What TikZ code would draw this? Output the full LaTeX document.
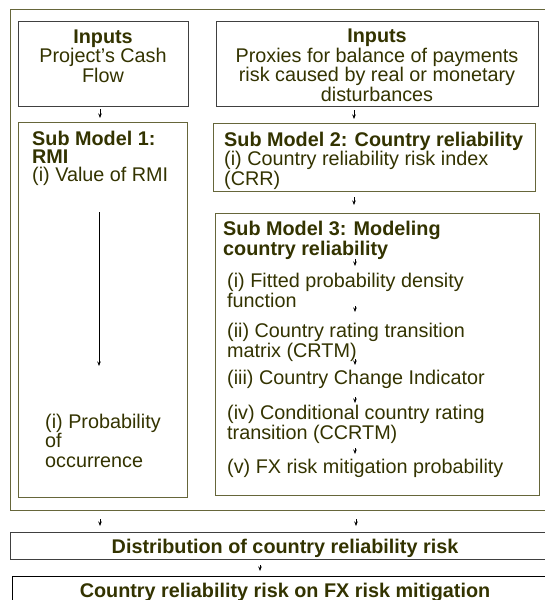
\documentclass[tikz,border=0pt]{standalone}
\usepackage{fontspec}
\setmainfont{Liberation Sans}
\usetikzlibrary{arrows.meta}

\begin{document}
\begin{tikzpicture}[x=1pt, y=-1pt,
    >={Stealth[length=4.5pt,width=3.5pt]},
    box/.style={draw, line width=1pt, inner sep=0pt, anchor=north west},
    txt/.style={inner sep=0pt, text=textColour, font=\fontsize{19.8}{19.5}\selectfont},
    flow/.style={->, line width=0.6pt, black}]
    % Define colours
    \definecolor{textColour}{HTML}{333300}
    \definecolor{oliveColour}{HTML}{66663A}
    \definecolor{inputColour}{HTML}{404040}

    % Fix the page
    \useasboundingbox (0,0) rectangle (544,600);

    % Draw outer frame
    \node[box, draw=oliveColour, minimum width=540pt, minimum height=501pt] (frame) at (10,9) {};

    % Draw input boxes
    \node[box, draw=inputColour, minimum width=170pt, minimum height=85pt] (in1) at (18,21) {};
    \node[box, draw=inputColour, minimum width=322pt, minimum height=85pt] (in2) at (216,21) {};

    % Draw sub model boxes
    \node[box, draw=oliveColour, minimum width=169pt, minimum height=375pt] (sm1) at (18,122) {};
    \node[box, draw=oliveColour, minimum width=322pt, minimum height=68pt] (sm2) at (213,123) {};
    \node[box, draw=oliveColour, minimum width=324pt, minimum height=282pt] (sm3) at (215,213) {};

    % Draw output boxes
    \node[box, draw=inputColour, minimum width=540pt, minimum height=27pt] (dist) at (10,532) {};
    \node[box, draw=black, minimum width=540pt, minimum height=40pt] (out) at (12,576) {};

    % Texts of the input boxes (base = last line)
    \node[txt, anchor=base, align=center] (in1txt) at (103,82) {\textbf{Inputs}\\Project's Cash\\Flow};
    \node[txt, anchor=base, align=center] (in2txt) at (377,101) {\textbf{Inputs}\\Proxies for balance of payments\\risk caused by real or monetary\\disturbances};

    % Texts of sub model 1
    \node[txt, anchor=base west, align=left, font=\fontsize{19.8}{18}\selectfont] (sm1a) at (32,181) {\textbf{Sub Model 1:}\\\textbf{RMI}\\(i) Value of RMI};
    \node[txt, anchor=base west, align=left] (sm1b) at (45,467) {(i) Probability\\of\\occurrence};

    % Texts of sub model 2
    \node[txt, anchor=base west, align=left] (sm2a) at (224,185) {\textbf{Sub Model 2: Country reliability}\\(i) Country reliability risk index\\(CRR)};

    % Texts of sub model 3
    \node[txt, anchor=base west, align=left, font=\fontsize{19.8}{20}\selectfont] (sm3a) at (223,255) {\textbf{Sub Model 3: Modeling}\\\textbf{country reliability}};
    \node[txt, anchor=base west, align=left] (it1) at (227,307) {(i) Fitted probability density\\function};
    \node[txt, anchor=base west, align=left] (it2) at (227,357) {(ii) Country rating transition\\matrix (CRTM)};
    \node[txt, anchor=base west, align=left] (it3) at (227,384) {(iii) Country Change Indicator};
    \node[txt, anchor=base west, align=left] (it4) at (227,439) {(iv) Conditional country rating\\transition (CCRTM)};
    \node[txt, anchor=base west, align=left] (it5) at (227,473) {(v) FX risk mitigation probability};

    % Texts of the output boxes
    \node[txt, anchor=base] (disttxt) at (285,553) {\textbf{Distribution of country reliability risk}};
    \node[txt, anchor=base] (outtxt) at (285,597) {\textbf{Country reliability risk on FX risk mitigation}};

    % Draw arrows
    \draw[flow] ([yshift=-2pt]in1.south -| 100,0) -- ([yshift=4pt]sm1.north -| 100,0);
    \draw[flow] ([yshift=-3pt]in2.south -| 354,0) -- ([yshift=4pt]sm2.north -| 354,0);
    \draw[flow] ([yshift=-5pt]sm2.south -| 354,0) -- ([yshift=8pt]sm3.north -| 354,0);
    \draw[flow] ([yshift=-90pt]sm1.north -| 99,0) -- ([yshift=-244pt]sm1.north -| 99,0);
    \draw[flow] ([yshift=-4pt]sm3a.base -| 355,0) -- ([yshift=-11pt]sm3a.base -| 355,0);
    \draw[flow] ([yshift=1pt]it1.base -| 355,0) -- ([yshift=-5pt]it1.base -| 355,0);
    \draw[flow] ([yshift=-2pt]it2.base -| 355,0) -- ([yshift=-8pt]it2.base -| 355,0);
    \draw[flow] ([yshift=-13pt]it3.base -| 355,0) -- ([yshift=-19pt]it3.base -| 355,0);
    \draw[flow] ([yshift=-9pt]it4.base -| 355,0) -- ([yshift=-15pt]it4.base -| 355,0);
    \draw[flow] ([yshift=-8pt]frame.south -| 100,0) -- ([yshift=6pt]dist.north -| 100,0);
    \draw[flow] ([yshift=-8pt]frame.south -| 356,0) -- ([yshift=6pt]dist.north -| 356,0);
    \draw[flow] ([yshift=-5pt]dist.south -| 260,0) -- ([yshift=5pt]out.north -| 260,0);
\end{tikzpicture}
\end{document}
